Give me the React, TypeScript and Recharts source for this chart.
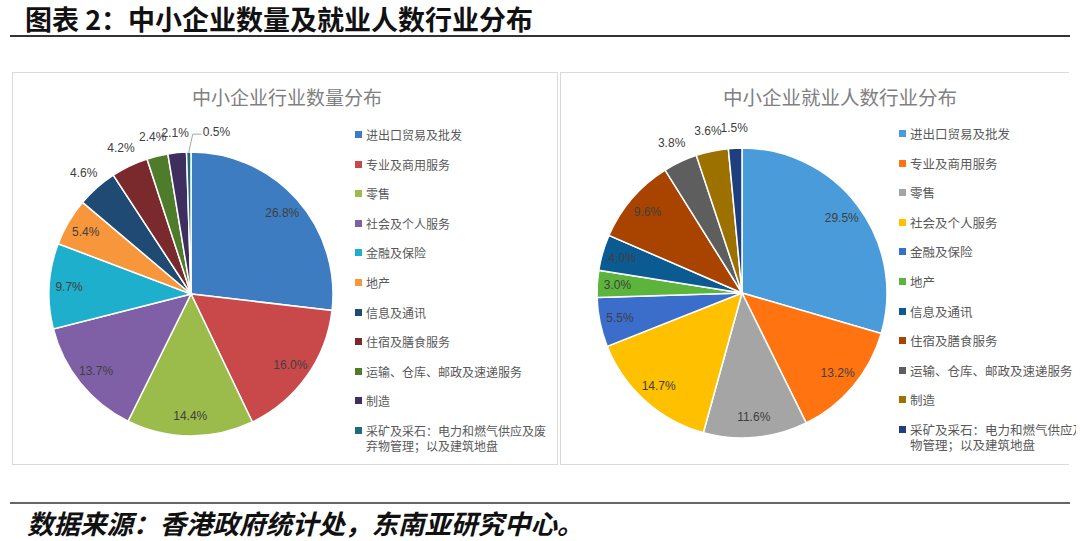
import { Cell, Legend, Pie, PieChart } from "recharts";

const categories = [
  "进出口贸易及批发",
  "专业及商用服务",
  "零售",
  "社会及个人服务",
  "金融及保险",
  "地产",
  "信息及通讯",
  "住宿及膳食服务",
  "运输、仓库、邮政及速递服务",
  "制造",
  "采矿及采石：电力和燃气供应及废弃物管理；以及建筑地盘",
];

// 企业数量占比 (%)
const countShares = [26.8, 16.0, 14.4, 13.7, 9.7, 5.4, 4.6, 4.2, 2.4, 2.1, 0.5];
// 就业人数占比 (%)
const employShares = [29.5, 13.2, 11.6, 14.7, 5.5, 3.0, 4.0, 9.6, 3.8, 3.6, 1.5];

const countColors = [
  "#3E7CC1", "#C9494B", "#9BBB4B", "#7F5FA6", "#1DAFCB", "#F7963B",
  "#1F4A74", "#7A2A2C", "#4E7C2A", "#3E2F5E", "#216C7B",
];
const employColors = [
  "#4A9BDA", "#FF7410", "#A5A5A5", "#FFC000", "#3B6DCB", "#5CB43C",
  "#0C5A92", "#A84300", "#5E5E5E", "#9C7100", "#1F3E7D",
];

const countData = categories.map((name, i) => ({ name, value: countShares[i] }));
const employData = categories.map((name, i) => ({ name, value: employShares[i] }));

const RAD = Math.PI / 180;
const labelFont = "'Liberation Sans', Arial, sans-serif";
const cjkFont = "'Noto Sans CJK SC', sans-serif";

function renderLabel(props: any) {
  const { cx, cy, midAngle, outerRadius, value } = props;
  const up = Math.sin(midAngle * RAD);
  const inside = value >= 5 || (value >= 3 && Math.abs(up) < 0.5);
  const r = inside ? outerRadius * 0.86 : outerRadius * 1.14;
  let x = cx + r * Math.cos(-midAngle * RAD);
  const y = cy + r * Math.sin(-midAngle * RAD);
  if (value < 1) {
    // tiny slice: label pushed right with a leader line
    const ex = cx + outerRadius * Math.cos(-midAngle * RAD);
    const ey = cy + outerRadius * Math.sin(-midAngle * RAD);
    x = x + 28;
    return (
      <g>
        <polyline
          points={`${ex},${ey} ${ex + 4},${y + 2} ${x - 15},${y + 2}`}
          fill="none"
          stroke="#A6A6A6"
          strokeWidth={1}
        />
        <text x={x} y={y} textAnchor="middle" dominantBaseline="central" fill="#404040" fontSize={12} fontFamily={labelFont}>
          {value.toFixed(1)}%
        </text>
      </g>
    );
  }
  return (
    <text x={x} y={y} textAnchor="middle" dominantBaseline="central" fill="#404040" fontSize={12} fontFamily={labelFont}>
      {value.toFixed(1)}%
    </text>
  );
}

function LegendList({ colors, fontSize, textWidth }: { colors: string[]; fontSize: number; textWidth: number }) {
  return (
    <div style={{ fontFamily: cjkFont, fontSize, color: "#595959" }}>
      {categories.map((c, i) => (
        <div key={c} style={{ display: "flex", alignItems: "flex-start", height: i < categories.length - 1 ? 29.6 : "auto" }}>
          <span style={{ width: 7, height: 7, background: colors[i], marginTop: 4, marginRight: 4, flex: "none" }} />
          <span style={{ width: textWidth, lineHeight: "15px", wordBreak: "break-all" }}>{c}</span>
        </div>
      ))}
    </div>
  );
}

export default function App() {
  return (
    <div style={{ position: "absolute", left: 0, top: 0, width: 1080, height: 541, background: "#fff", overflow: "hidden" }}>
      <div style={{ position: "absolute", left: 25, top: 2, fontFamily: cjkFont, fontWeight: 700, fontSize: 27, color: "#111", whiteSpace: "nowrap", lineHeight: "34px" }}>
        图表 2：中小企业数量及就业人数行业分布
      </div>
      <div style={{ position: "absolute", left: 10, top: 35, width: 1060, height: 2, background: "#333" }} />

      {/* 左图 */}
      <div style={{ position: "absolute", left: 12, top: 72, width: 544, height: 391, border: "1px solid #D9D9D9" }}>
        <span style={{ position: "absolute", left: 179, top: 10, fontFamily: cjkFont, fontSize: 19, color: "#808080", whiteSpace: "nowrap" }}>
          中小企业行业数量分布
        </span>
        <div style={{ position: "absolute", left: -1, top: -1 }}>
          <PieChart width={546} height={393} margin={{ top: 0, right: 0, bottom: 0, left: 0 }}>
            <Pie
              data={countData}
              dataKey="value"
              nameKey="name"
              cx={179}
              cy={222}
              outerRadius={142}
              startAngle={90}
              endAngle={-270}
              stroke="#fff"
              strokeWidth={1.5}
              label={renderLabel}
              labelLine={false}
              isAnimationActive={false}
            >
              {countData.map((d, i) => (
                <Cell key={d.name} fill={countColors[i]} />
              ))}
            </Pie>
            <Legend
              layout="vertical"
              align="right"
              verticalAlign="top"
              wrapperStyle={{ position: "absolute", left: 343, top: 55, width: 200 }}
              content={() => <LegendList colors={countColors} fontSize={12} textWidth={182} />}
            />
          </PieChart>
        </div>
      </div>

      {/* 右图 */}
      <div style={{ position: "absolute", left: 560, top: 72, width: 516, height: 393, overflow: "hidden" }}>
        <div style={{ position: "absolute", left: 0, top: 0, width: 508, height: 391, borderTop: "1px solid #D9D9D9", borderLeft: "1px solid #D9D9D9", borderBottom: "1px solid #D9D9D9" }} />
        <span style={{ position: "absolute", left: 163, top: 10, fontFamily: cjkFont, fontSize: 19.5, color: "#808080", whiteSpace: "nowrap" }}>
          中小企业就业人数行业分布
        </span>
        <div style={{ position: "absolute", left: 0, top: 0 }}>
          <PieChart width={516} height={393} margin={{ top: 0, right: 0, bottom: 0, left: 0 }}>
            <Pie
              data={employData}
              dataKey="value"
              nameKey="name"
              cx={182}
              cy={221}
              outerRadius={145}
              startAngle={90}
              endAngle={-270}
              stroke="#fff"
              strokeWidth={1.5}
              label={renderLabel}
              labelLine={false}
              isAnimationActive={false}
            >
              {employData.map((d, i) => (
                <Cell key={d.name} fill={employColors[i]} />
              ))}
            </Pie>
            <Legend
              layout="vertical"
              align="right"
              verticalAlign="top"
              wrapperStyle={{ position: "absolute", left: 339, top: 54, width: 240 }}
              content={() => <LegendList colors={employColors} fontSize={12.5} textWidth={201} />}
            />
          </PieChart>
        </div>
      </div>

      <div style={{ position: "absolute", left: 10, top: 502, width: 1060, height: 2, background: "#666" }} />
      <div style={{ position: "absolute", left: 27, top: 506, fontFamily: cjkFont, fontWeight: 700, fontStyle: "italic", fontSize: 26.5, color: "#111", whiteSpace: "nowrap", lineHeight: "34px" }}>
        数据来源：香港政府统计处，东南亚研究中心。
      </div>
    </div>
  );
}
